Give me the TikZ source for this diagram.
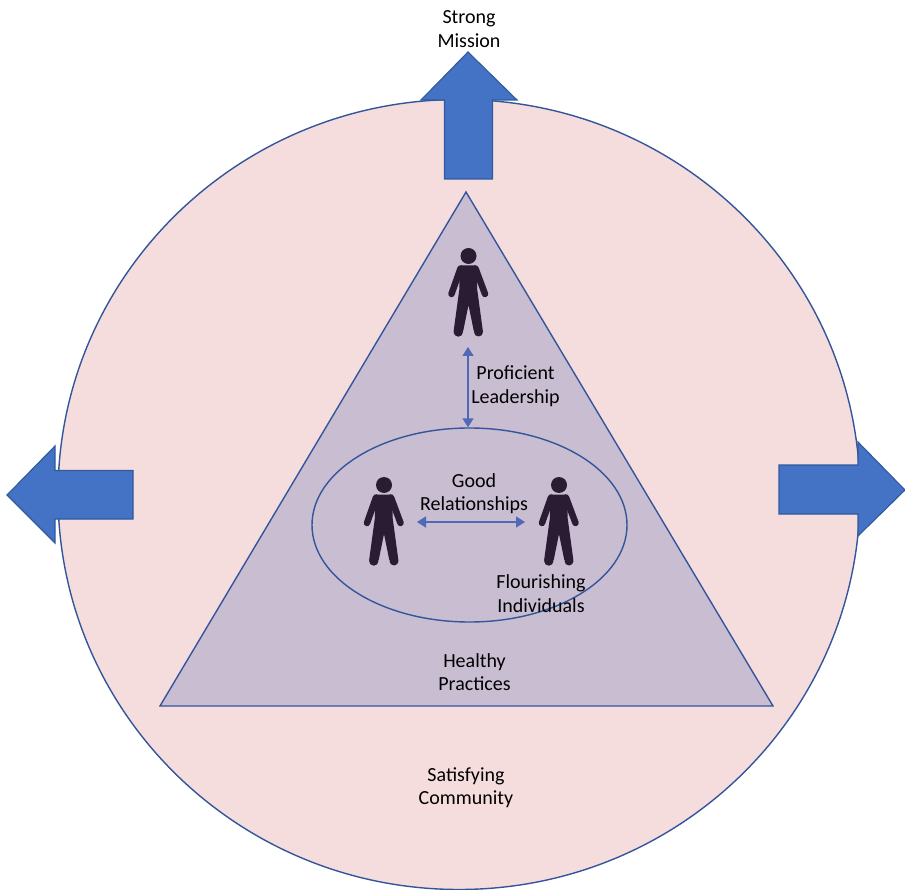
\documentclass[tikz,border=0pt]{standalone}
\usepackage{fontspec}
\setmainfont{Carlito}
\usetikzlibrary{shapes.geometric,arrows.meta}
\definecolor{pinkfill}{HTML}{F6DDDD}
\definecolor{trifill}{HTML}{C9BDD2}
\definecolor{lineblue}{HTML}{33559B}
\definecolor{arrowfill}{HTML}{4472C4}
\definecolor{arrowedge}{HTML}{2F5A9F}
\definecolor{linkblue}{HTML}{5069B6}
\definecolor{personfill}{HTML}{291C33}
\tikzset{
  outline/.style={draw=lineblue,line width=1.4pt},
  bigarrow/.style={draw=arrowedge,fill=arrowfill,line width=1.1pt,line join=miter},
  link/.style={draw=linkblue,line width=1.5pt,{Triangle[length=9pt,width=11pt]}-{Triangle[length=9pt,width=11pt]},shorten >=0pt,shorten <=0pt},
  label/.style={align=center,font=\fontsize{20}{23.5}\selectfont,text=black,inner sep=0pt},
  person/.pic={
    \fill[personfill] (0,0) circle (8);
    \fill[personfill,rounded corners=1.5] (-9.5,9.5) -- (8.5,9.5) -- (8.5,32) -- (14.5,76) -- (5.5,76) -- (0,49) -- (-5.5,76) -- (-15,76) -- (-9,32) -- cycle;
    \fill[personfill] (-10.2,76) circle (4.7) (10,76) circle (4.5);
    \draw[personfill,line width=6.5pt,line cap=round] (-8,12.5) -- (-17,38);
    \draw[personfill,line width=6.5pt,line cap=round] (7,12.5) -- (16.5,38);
  }
}
\begin{document}
\begin{tikzpicture}[x=1pt,y=-1pt]
\useasboundingbox (0,0) rectangle (905,890);
\fill[white] (0,0) rectangle (905,890);
% community circle
\node[ellipse,outline,fill=pinkfill,minimum width=802pt,minimum height=790pt,inner sep=0pt] (community) at (459,494.5) {};
% practices triangle
\draw[outline,fill=trifill,line join=miter] (466,192) -- (773,706) -- (160,706) -- cycle;
% relationships ellipse
\node[ellipse,outline,minimum width=315pt,minimum height=194pt,inner sep=0pt] (relations) at (469.5,525) {};
% block arrows
\draw[bigarrow] (468,52) -- (517,100) -- (492.5,100) -- (492.5,179) -- (444.5,179) -- (444.5,100) -- (421,100) -- cycle;
\draw[bigarrow] (7,495) -- (55,446) -- (55,470.5) -- (133,470.5) -- (133,519) -- (55,519) -- (55,543) -- cycle;
\draw[bigarrow] (905,490) -- (858,442) -- (858,465) -- (779,465) -- (779,514) -- (858,514) -- (858,536) -- cycle;
% people
\pic (leader) at (468.5,256) {person};
\pic (left) at (384,485) {person};
\pic (right) at (559,485) {person};
% links
\coordinate (leadfoot) at (468,347);
\coordinate (lefthand) at (417,522);
\coordinate (righthand) at (525,522);
\draw[link] (leadfoot) -- (relations.north -| leadfoot);
\draw[link] (lefthand) -- (righthand);
% labels
\node[label] (mission) at (469,29) {Strong\\Mission};
\node[label] (leadership) at (515.5,386) {Proficient\\Leadership};
\node[label] (good) at (474,493.5) {Good\\Relationships};
\node[label] (flourish) at (541,593.5) {Flourishing\\Individuals};
\node[label] (healthy) at (474.5,672) {Healthy\\Practices};
\node[label] (satisfy) at (466,787.5) {Satisfying\\Community};
\end{tikzpicture}
\end{document}
